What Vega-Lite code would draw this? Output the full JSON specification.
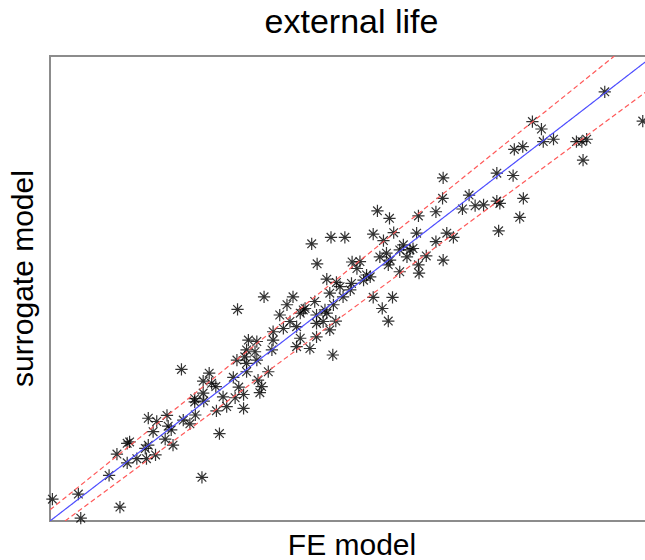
{
  "$schema": "https://vega.github.io/schema/vega-lite/v6.json",
  "autosize": "none",
  "width": 603,
  "height": 465,
  "padding": {"left": 50, "top": 56, "right": 0, "bottom": 39},
  "background": "white",
  "title": {"text": "external life", "fontSize": 34, "font": "Liberation Sans", "fontWeight": "normal", "color": "#000000", "offset": 16, "anchor": "middle"},
  "config": {
    "view": {"stroke": "#8c8c8c", "strokeWidth": 2},
    "axis": {"ticks": false, "labels": false, "grid": false, "domain": false, "titleFont": "Liberation Sans", "titleFontSize": 30, "titleFontWeight": "normal", "titleColor": "#000000"}
  },
  "datasets": {
    "points": [
      {"fe":0.4,"surrogate":4.7},{"fe":4.7,"surrogate":5.8},{"fe":5.1,"surrogate":0.6},{"fe":11.6,"surrogate":3.0},{"fe":9.8,"surrogate":9.8},{"fe":12.8,"surrogate":12.5},{"fe":11.1,"surrogate":14.4},{"fe":12.8,"surrogate":16.7},{"fe":13.2,"surrogate":17.0},{"fe":14.4,"surrogate":13.4},{"fe":15.8,"surrogate":15.6},{"fe":16.3,"surrogate":16.3},{"fe":16.0,"surrogate":13.4},{"fe":17.5,"surrogate":14.2},
      {"fe":17.1,"surrogate":19.2},{"fe":16.3,"surrogate":22.1},{"fe":17.7,"surrogate":21.4},{"fe":19.4,"surrogate":22.7},{"fe":19.6,"surrogate":20.4},{"fe":19.1,"surrogate":17.6},{"fe":20.1,"surrogate":19.6},{"fe":20.4,"surrogate":16.3},{"fe":22.1,"surrogate":21.7},{"fe":23.2,"surrogate":20.9},{"fe":24.1,"surrogate":22.8},{"fe":24.0,"surrogate":26.3},{"fe":24.0,"surrogate":25.6},{"fe":25.5,"surrogate":25.8},{"fe":25.4,"surrogate":27.5},{"fe":25.4,"surrogate":30.1},{"fe":26.4,"surrogate":31.8},{"fe":26.8,"surrogate":29.6},{"fe":27.5,"surrogate":28.9},{"fe":28.7,"surrogate":26.7},{"fe":27.6,"surrogate":23.7},{"fe":28.1,"surrogate":18.8},{"fe":25.2,"surrogate":9.4},{"fe":30.7,"surrogate":26.5},{"fe":31.3,"surrogate":28.8},{"fe":32.1,"surrogate":27.2},{"fe":34.5,"surrogate":30.3},{"fe":34.8,"surrogate":27.6},{"fe":29.3,"surrogate":24.6},{"fe":32.1,"surrogate":24.2},{"fe":30.4,"surrogate":30.9},{"fe":32.6,"surrogate":32.1},{"fe":21.8,"surrogate":32.6},{"fe":35.1,"surrogate":28.9},
      {"fe":44.3,"surrogate":55.3},{"fe":35.5,"surrogate":48.2},{"fe":31.1,"surrogate":45.5},{"fe":46.9,"surrogate":35.7},{"fe":50.1,"surrogate":55.7},{"fe":51.4,"surrogate":55.8},{"fe":55.8,"surrogate":57.6},{"fe":56.4,"surrogate":56.1},{"fe":56.8,"surrogate":48.1},{"fe":55.1,"surrogate":45.7},{"fe":56.1,"surrogate":43.0},{"fe":53.6,"surrogate":48.1},{"fe":52.0,"surrogate":51.8},{"fe":53.1,"surrogate":52.5},{"fe":50.0,"surrogate":51.1},{"fe":49.8,"surrogate":49.7},{"fe":47.5,"surrogate":51.3},{"fe":45.9,"surrogate":52.0},{"fe":46.4,"surrogate":49.0},{"fe":45.6,"surrogate":45.4},{"fe":43.9,"surrogate":47.2},{"fe":44.2,"surrogate":44.3},{"fe":47.4,"surrogate":43.0},{"fe":46.4,"surrogate":41.1},{"fe":44.2,"surrogate":39.6},{"fe":43.1,"surrogate":37.1},{"fe":40.9,"surrogate":37.5},{"fe":41.5,"surrogate":39.3},{"fe":40.9,"surrogate":41.8},{"fe":39.8,"surrogate":42.9},{"fe":38.7,"surrogate":41.4},{"fe":38.1,"surrogate":44.3},{"fe":39.3,"surrogate":46.5},{"fe":40.3,"surrogate":48.2},{"fe":42.0,"surrogate":45.4},{"fe":37.0,"surrogate":40.7},{"fe":36.8,"surrogate":36.8},{"fe":36.2,"surrogate":32.1},{"fe":32.9,"surrogate":38.9},{"fe":34.3,"surrogate":38.6},{"fe":32.6,"surrogate":36.8},{"fe":31.0,"surrogate":34.6},{"fe":32.6,"surrogate":33.9},{"fe":34.3,"surrogate":34.6},{"fe":37.0,"surrogate":38.9},{"fe":41.5,"surrogate":44.7},{"fe":45.3,"surrogate":42.9},{"fe":34.0,"surrogate":36.4},{"fe":32.3,"surrogate":35.3},
      {"fe":65.2,"surrogate":73.8},{"fe":65.1,"surrogate":69.4},{"fe":64.0,"surrogate":66.5},{"fe":61.1,"surrogate":65.6},{"fe":56.3,"surrogate":65.1},{"fe":54.3,"surrogate":66.7},{"fe":46.6,"surrogate":61.0},{"fe":48.9,"surrogate":61.0},{"fe":43.4,"surrogate":59.6},{"fe":53.6,"surrogate":61.7},{"fe":57.0,"surrogate":62.0},{"fe":55.3,"surrogate":60.3},{"fe":60.8,"surrogate":61.9},{"fe":65.8,"surrogate":61.9},{"fe":66.9,"surrogate":61.0},{"fe":64.0,"surrogate":60.1},{"fe":65.2,"surrogate":56.1},{"fe":62.4,"surrogate":57.0},{"fe":61.1,"surrogate":55.1},{"fe":61.2,"surrogate":53.3},{"fe":59.7,"surrogate":58.3},{"fe":59.2,"surrogate":56.8},{"fe":58.0,"surrogate":58.3},{"fe":58.0,"surrogate":53.6},{"fe":54.7,"surrogate":56.8},{"fe":56.1,"surrogate":55.1},{"fe":69.5,"surrogate":70.1},{"fe":68.4,"surrogate":67.1},{"fe":70.5,"surrogate":67.8},{"fe":71.9,"surrogate":68.0},{"fe":74.1,"surrogate":74.8},{"fe":74.1,"surrogate":68.8},{"fe":74.4,"surrogate":62.4},{"fe":50.9,"surrogate":54.3},{"fe":52.5,"surrogate":52.9},{"fe":48.1,"surrogate":50.4},{"fe":47.0,"surrogate":46.5},{"fe":42.3,"surrogate":45.7},{"fe":45.9,"surrogate":44.7},{"fe":44.2,"surrogate":42.5},{"fe":48.6,"surrogate":48.2},
      {"fe":92.0,"surrogate":92.3},{"fe":98.3,"surrogate":86.0},{"fe":80.0,"surrogate":85.9},{"fe":81.5,"surrogate":84.3},{"fe":81.8,"surrogate":81.6},{"fe":83.5,"surrogate":82.1},{"fe":87.3,"surrogate":81.6},{"fe":88.2,"surrogate":81.6},{"fe":89.0,"surrogate":82.1},{"fe":88.4,"surrogate":77.6},{"fe":77.0,"surrogate":79.9},{"fe":78.4,"surrogate":80.5},{"fe":76.8,"surrogate":74.3},{"fe":74.6,"surrogate":68.3},{"fe":78.5,"surrogate":69.4},{"fe":77.9,"surrogate":65.3},{"fe":58.6,"surrogate":59.4},{"fe":60.2,"surrogate":58.6}
    ],
    "lines": [
      {"line":"fit","fe":0,"surrogate":0},{"line":"fit","fe":100,"surrogate":100},
      {"line":"upper","fe":0,"surrogate":2.4},{"line":"upper","fe":93.6,"surrogate":100},
      {"line":"lower","fe":2.5,"surrogate":0},{"line":"lower","fe":100,"surrogate":93.4}
    ]
  },
  "layer": [
    {
      "data": {"name": "points"},
      "mark": {"type": "point", "shape": "M-1,0L1,0M0,-1L0,1M-0.707,-0.707L0.707,0.707M-0.707,0.707L0.707,-0.707", "filled": false, "stroke": "#000000", "strokeWidth": 1.2, "size": 150, "opacity": 0.8},
      "encoding": {
        "x": {"field": "fe", "type": "quantitative", "scale": {"domain": [0, 100], "nice": false, "zero": false}, "axis": {"title": "FE model", "titlePadding": 9}},
        "y": {"field": "surrogate", "type": "quantitative", "scale": {"domain": [0, 100], "nice": false, "zero": false}, "axis": {"title": "surrogate model", "titlePadding": 12, "titleY": 222}}
      }
    },
    {
      "data": {"name": "lines"},
      "mark": {"type": "line", "clip": true, "strokeWidth": 1.2},
      "encoding": {
        "x": {"field": "fe", "type": "quantitative"},
        "y": {"field": "surrogate", "type": "quantitative"},
        "detail": {"field": "line"},
        "color": {"field": "line", "type": "nominal", "scale": {"domain": ["fit", "upper", "lower"], "range": ["#4d4dff", "#ff5a5a", "#ff5a5a"]}, "legend": null},
        "strokeDash": {"field": "line", "type": "nominal", "scale": {"domain": ["fit", "upper", "lower"], "range": [[1, 0], [5, 3], [5, 3]]}, "legend": null}
      }
    }
  ]
}
